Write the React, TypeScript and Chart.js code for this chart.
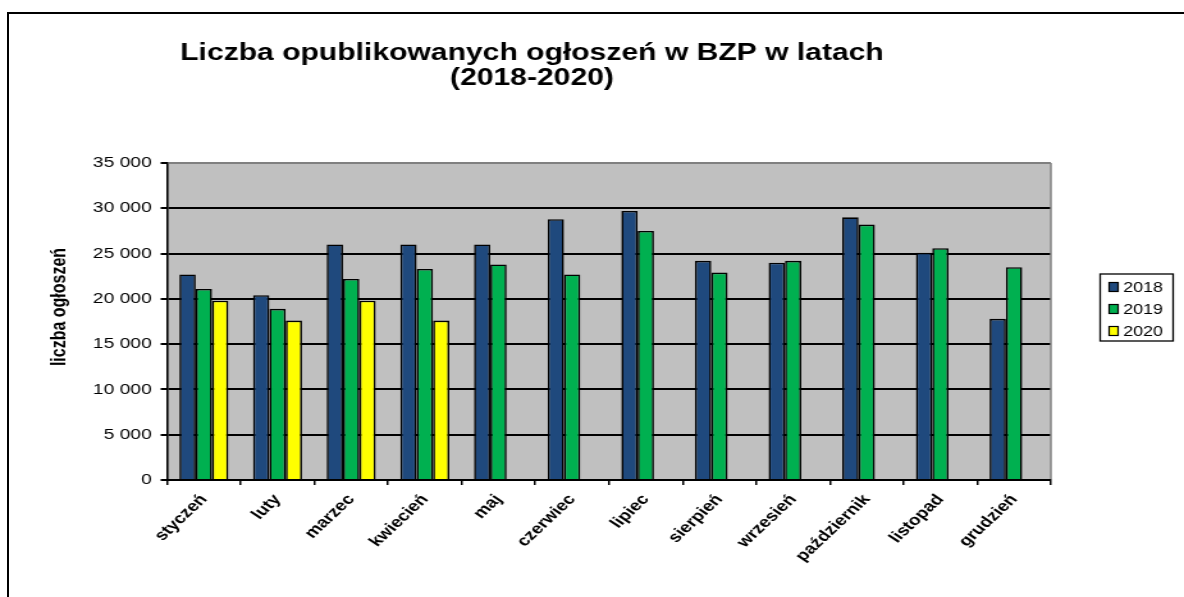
import React, { useEffect, useRef } from 'react';
import { Chart, registerables } from 'chart.js';

Chart.register(...registerables);

// ---- data ----
const categories = ['styczeń', 'luty', 'marzec', 'kwiecień', 'maj', 'czerwiec', 'lipiec', 'sierpień', 'wrzesień', 'październik', 'listopad', 'grudzień'];
const seriesLabels = ['2018', '2019', '2020'];
const values2018 = [22700, 20400, 26000, 26000, 26000, 28800, 29700, 24200, 24000, 29000, 25100, 17800];
const values2019 = [21100, 18900, 22200, 23300, 23800, 22700, 27500, 22900, 24200, 28200, 25600, 23500];
const values2020 = [19800, 17600, 19800, 17600, null, null, null, null, null, null, null, null];
const seriesColors = ['#1F497D', '#00B050', '#FFFF00'];
const yTickValues = [0, 5000, 10000, 15000, 20000, 25000, 30000, 35000];
const titleLines = ['Liczba opublikowanych ogłoszeń w BZP w latach', '(2018-2020)'];
const yAxisTitle = 'liczba ogłoszeń';

// ---- layout ----
const STRETCH = 1.28;
const W = 925;
const H = 597;
const FONT = "'Liberation Sans', Arial, sans-serif";
const PLOT_LEFT = 130.5;
const PLOT_RIGHT = 821;
const PLOT_TOP = 163;
const PLOT_BOTTOM = 480;

function fmt(v: number): string {
  return String(v).replace(/\B(?=(\d{3})+(?!\d))/g, ' ');
}

const decorPlugin = {
  id: 'decor',
  beforeDraw(chart: any) {
    const { ctx, chartArea: a } = chart;
    ctx.save();
    ctx.fillStyle = '#C0C0C0';
    ctx.fillRect(a.left, a.top, a.right - a.left, a.bottom - a.top);
    ctx.restore();
  },
  afterDraw(chart: any) {
    const { ctx, chartArea: a } = chart;
    ctx.save();
    // gray frame top / right
    ctx.strokeStyle = '#808080';
    ctx.lineWidth = 2;
    ctx.beginPath();
    ctx.moveTo(a.left + 1, a.top);
    ctx.lineTo(a.right, a.top);
    ctx.stroke();
    ctx.lineWidth = 1.5;
    ctx.beginPath();
    ctx.moveTo(a.right, a.top);
    ctx.lineTo(a.right, a.bottom - 1);
    ctx.stroke();

    // title
    ctx.fillStyle = '#000';
    ctx.font = `bold 23.5px ${FONT}`;
    ctx.textAlign = 'center';
    ctx.textBaseline = 'alphabetic';
    const tx = 415.6;
    ctx.fillText(titleLines[0], tx, 60);
    ctx.fillText(titleLines[1], tx, 85);

    // y axis title
    ctx.save();
    ctx.translate(46.9, 307);
    ctx.rotate(-Math.PI / 2);
    ctx.font = `bold 16px ${FONT}`;
    ctx.textAlign = 'center';
    ctx.textBaseline = 'middle';
    ctx.fillText(yAxisTitle, 0, 0);
    ctx.restore();

    // legend
    const lx = 859.5, ly = 274, lw = 57, lh = 67;
    ctx.strokeStyle = '#000';
    ctx.lineWidth = 1.3;
    ctx.strokeRect(lx, ly, lw, lh);
    chart.data.datasets.forEach((ds: any, i: number) => {
      const cy = 287 + i * 22;
      ctx.fillStyle = ds.backgroundColor;
      ctx.fillRect(lx + 7, cy - 4.5, 7, 9);
      ctx.lineWidth = 1.2;
      ctx.strokeStyle = '#000';
      ctx.strokeRect(lx + 7, cy - 4.5, 7, 9);
      ctx.fillStyle = '#000';
      ctx.font = `14px ${FONT}`;
      ctx.textAlign = 'left';
      ctx.textBaseline = 'middle';
      ctx.fillText(ds.label, lx + 18, cy + 1);
    });
    ctx.restore();
  },
};

export default function App() {
  const ref = useRef<HTMLCanvasElement>(null);

  useEffect(() => {
    document.body.style.overflow = 'hidden';
    const seriesValues = [values2018, values2019, values2020];
    const chart = new Chart(ref.current as HTMLCanvasElement, {
      type: 'bar',
      data: {
        labels: categories,
        datasets: seriesLabels.map((label, i) => ({
          label,
          data: seriesValues[i],
          backgroundColor: seriesColors[i],
          borderColor: '#000',
          borderWidth: 1.6,
          categoryPercentage: 0.665,
          barPercentage: 1,
        })),
      },
      options: {
        responsive: false,
        animation: false,
        events: [],
        layout: { padding: { left: 0, right: W - PLOT_RIGHT, top: PLOT_TOP, bottom: 0 } },
        plugins: {
          legend: { display: false },
          title: { display: false },
          tooltip: { enabled: false },
        },
        scales: {
          x: {
            grid: { offset: true, drawOnChartArea: false, drawTicks: true, tickLength: 5, color: '#000', lineWidth: 1.5 },
            border: { display: true, color: '#000', width: 2 },
            ticks: {
              autoSkip: false,
              minRotation: 50,
              maxRotation: 50,
              padding: 6,
              color: '#000',
              font: { family: FONT, size: 15, weight: 'bold' },
            },
            afterFit: (s: any) => { s.height = H - PLOT_BOTTOM; },
          },
          y: {
            min: 0,
            max: 35000,
            afterBuildTicks: (s: any) => { s.ticks = yTickValues.map((v) => ({ value: v })); },
            grid: { color: '#000', lineWidth: 2, tickLength: 5, drawTicks: true },
            border: { display: true, color: '#000', width: 1.6 },
            ticks: {
              padding: 7,
              color: '#000',
              font: { family: FONT, size: 15 },
              callback: (v: any) => fmt(Number(v)),
            },
            afterFit: (s: any) => { s.width = PLOT_LEFT; },
          },
        },
      } as any,
      plugins: [decorPlugin],
    });
    return () => chart.destroy();
  }, []);

  return (
    <>
      <div
        style={{
          position: 'absolute',
          left: 7,
          top: 12,
          width: 1177,
          height: 585,
          borderLeft: '2px solid #000',
          borderTop: '2px solid #000',
          boxSizing: 'border-box',
        }}
      />
      <div
        style={{
          position: 'absolute',
          left: 0,
          top: 0,
          width: W,
          height: H,
          transform: `scaleX(${STRETCH})`,
          transformOrigin: '0 0',
        }}
      >
        <canvas ref={ref} width={W} height={H} style={{ display: 'block' }} />
      </div>
    </>
  );
}
